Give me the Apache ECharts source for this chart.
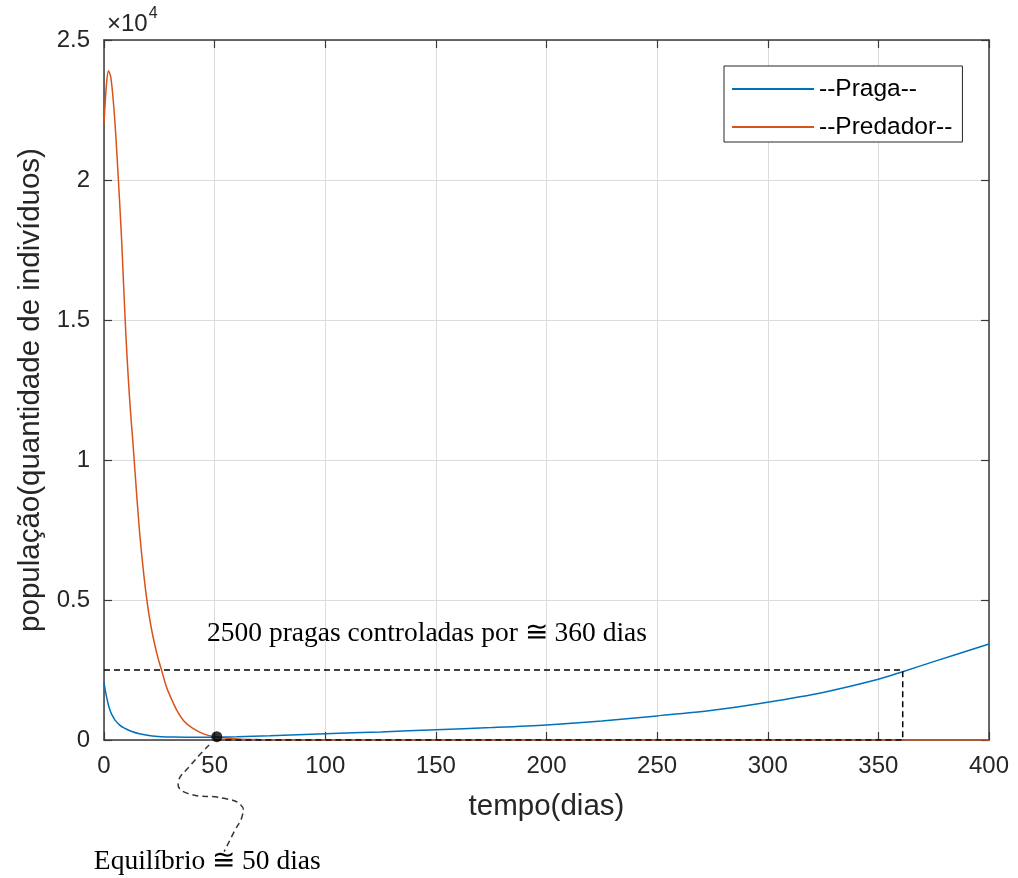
<!DOCTYPE html>
<html>
<head>
<meta charset="utf-8">
<script src="https://cdn.jsdelivr.net/npm/echarts@6/dist/echarts.min.js"></script>
<style>
  html, body { margin: 0; padding: 0; background: #fff; }
  #chart { width: 1018px; height: 878px; }
</style>
</head>
<body>
<div id="chart"></div>
<script>
// ---- data ----
const xTicks = [0, 50, 100, 150, 200, 250, 300, 350, 400];
const yTickLabels = ['0', '0.5', '1', '1.5', '2', '2.5'];

const tPraga = [0, 1, 2, 3, 4, 5, 7, 9, 12, 16, 21, 26, 32, 40, 50, 60, 75, 100, 125, 150, 175, 200, 225, 250, 275, 300, 325, 350, 361, 375, 400];
const vPraga = [2050, 1600, 1250, 1000, 840, 710, 540, 430, 320, 220, 150, 120, 105, 95, 100, 115, 150, 225, 290, 365, 445, 540, 680, 860, 1060, 1350, 1700, 2170, 2440, 2800, 3430];

const tPredador = [0, 1, 2, 3, 4, 5, 6, 7, 8, 9, 10, 11, 12, 13, 14, 16, 18, 20, 22, 24, 26, 28, 30, 33, 36, 40, 45, 50, 55, 60, 70, 80, 100, 150, 200, 250, 300, 350, 400];
const vPredador = [22000, 23300, 23900, 23700, 23000, 22000, 20700, 19300, 17800, 16000, 14300, 12900, 11700, 10700, 9600, 7500, 5900, 4650, 3750, 3050, 2500, 1950, 1550, 1050, 690, 420, 220, 120, 70, 40, 15, 5, 1, 0, 0, 0, 0, 0, 0];

// dashed guide: 2500 pests controlled until ~361 days
const guideX = [0, 361, 361, 50];
const guideY = [2500, 2500, 0, 0];

// equilibrium point
const equilibrio = [51, 120];

const textControle = '2500 pragas controladas por \u2245 360 dias';
const textEquilibrio = 'Equil\u00edbrio \u2245 50 dias';

// ---- build ----
const zip = (a, b) => a.map((v, i) => [v, b[i]]);
const AX = '#3a3a3a';
const SANS = '"Liberation Sans", Arial, Helvetica, sans-serif';
const SERIF = '"Liberation Serif", "Times New Roman", "DejaVu Serif", serif';

const chart = echarts.init(document.getElementById('chart'), null, { renderer: 'canvas' });

const baseX = {
  type: 'value', min: 0, max: 400, interval: 50,
  axisLine: { show: true, onZero: false, lineStyle: { color: AX, width: 1.5 } },
  axisTick: { show: true, inside: true, length: 8, lineStyle: { color: AX, width: 1.2 } },
};
const baseY = {
  type: 'value', min: 0, max: 25000, interval: 5000,
  axisLine: { show: true, onZero: false, lineStyle: { color: AX, width: 1.5 } },
  axisTick: { show: true, inside: true, length: 8, lineStyle: { color: AX, width: 1.2 } },
};

chart.setOption({
  animation: false,
  backgroundColor: '#fff',
  grid: { left: 104, right: 29, top: 40, bottom: 138, containLabel: false },
  legend: {
    data: [
      { name: '--Praga--', icon: 'rect' },
      { name: '--Predador--', icon: 'rect' }
    ],
    orient: 'vertical',
    left: 724, top: 66,
    itemWidth: 82, itemHeight: 2, itemGap: 12,
    padding: [10, 10, 2, 8],
    borderColor: '#262626', borderWidth: 1, borderRadius: 0,
    backgroundColor: '#fff',
    textStyle: { fontFamily: SANS, fontSize: 24.5, color: '#000', lineHeight: 26 }
  },
  xAxis: [
    Object.assign({}, baseX, {
      position: 'bottom',
      name: 'tempo(dias)', nameLocation: 'middle', nameGap: 52,
      nameTextStyle: { fontFamily: SANS, fontSize: 29.5, color: '#262626' },
      axisLabel: { show: true, margin: 14, fontFamily: SANS, fontSize: 24, color: '#262626',
        formatter: v => xTicks.includes(v) ? String(v) : '' },
      splitLine: { show: true, lineStyle: { color: '#dcdcdc', width: 1 } }
    }),
    Object.assign({}, baseX, {
      position: 'top', axisLabel: { show: false }, splitLine: { show: false }
    })
  ],
  yAxis: [
    Object.assign({}, baseY, {
      position: 'left',
      name: 'popula\u00e7\u00e3o(quantidade de indiv\u00edduos)', nameLocation: 'middle', nameGap: 57,
      nameTextStyle: { fontFamily: SANS, fontSize: 29.5, color: '#262626' },
      axisLabel: { show: true, margin: 14, fontFamily: SANS, fontSize: 24, color: '#262626',
        formatter: v => yTickLabels[Math.round(v / 5000)] },
      splitLine: { show: true, lineStyle: { color: '#dcdcdc', width: 1 } }
    }),
    Object.assign({}, baseY, {
      position: 'right', axisLabel: { show: false }, splitLine: { show: false }
    })
  ],
  series: [
    {
      name: '--Praga--', type: 'line', data: zip(tPraga, vPraga),
      xAxisIndex: 0, yAxisIndex: 0,
      showSymbol: false, symbol: 'none', smooth: 0.3,
      lineStyle: { color: '#0072BD', width: 1.5 }, itemStyle: { color: '#0072BD' }, z: 4
    },
    {
      name: '--Predador--', type: 'line', data: zip(tPredador, vPredador),
      xAxisIndex: 0, yAxisIndex: 0,
      showSymbol: false, symbol: 'none', smooth: 0.3,
      lineStyle: { color: '#D95319', width: 1.5 }, itemStyle: { color: '#D95319' }, z: 3
    },
    {
      name: 'guia', type: 'line', data: zip(guideX, guideY),
      showSymbol: false, symbol: 'none', silent: true,
      lineStyle: { color: '#000', width: 1.5, type: [6, 4] }, z: 5
    },
    {
      name: 'equilibrio', type: 'scatter', data: [equilibrio],
      symbol: 'circle', symbolSize: 11, itemStyle: { color: '#000' }, z: 6, silent: true
    }
  ]
});

// annotations anchored to data positions
const dot = chart.convertToPixel({ xAxisIndex: 0, yAxisIndex: 0 }, equilibrio);
const guideStart = chart.convertToPixel({ xAxisIndex: 0, yAxisIndex: 0 }, [guideX[0], guideY[0]]);
const origin = chart.convertToPixel({ xAxisIndex: 0, yAxisIndex: 0 }, [0, 25000]);
const squiggleOffsets = [[-7.7, 8.3], [-26, 28.3], [-38.7, 46.7], [-29.3, 56.7], [7.3, 61.7], [24, 68.3], [25.7, 78.3], [17.3, 95], [7.3, 115]];

chart.setOption({
  graphic: [
    {
      type: 'polyline', silent: true, z: 10,
      shape: { points: squiggleOffsets.map(o => [dot[0] + o[0], dot[1] + o[1]]), smooth: 0.5 },
      style: { stroke: '#333', lineWidth: 1.5, lineDash: [6, 4], fill: null }
    },
    {
      type: 'text', silent: true, z: 10,
      x: dot[0] - 123, y: dot[1] + 125,
      style: { text: textEquilibrio, font: '27.5px ' + SERIF, fill: '#000', verticalAlign: 'middle' }
    },
    {
      type: 'text', silent: true, z: 10,
      x: guideStart[0] + 103, y: guideStart[1] - 36,
      style: { text: textControle, font: '27.5px ' + SERIF, fill: '#000', verticalAlign: 'middle' }
    },
    {
      type: 'text', silent: true, z: 10,
      x: origin[0] + 3, y: origin[1] - 4,
      style: {
        text: '{a|\u00d710}{b|4}',
        rich: {
          a: { fontFamily: SANS, fontSize: 24, fill: '#262626', color: '#262626', verticalAlign: 'bottom' },
          b: { fontFamily: SANS, fontSize: 16, fill: '#262626', color: '#262626', verticalAlign: 'top', padding: [0, 0, 14, 1] }
        },
        verticalAlign: 'bottom'
      }
    }
  ]
});
</script>
</body>
</html>
